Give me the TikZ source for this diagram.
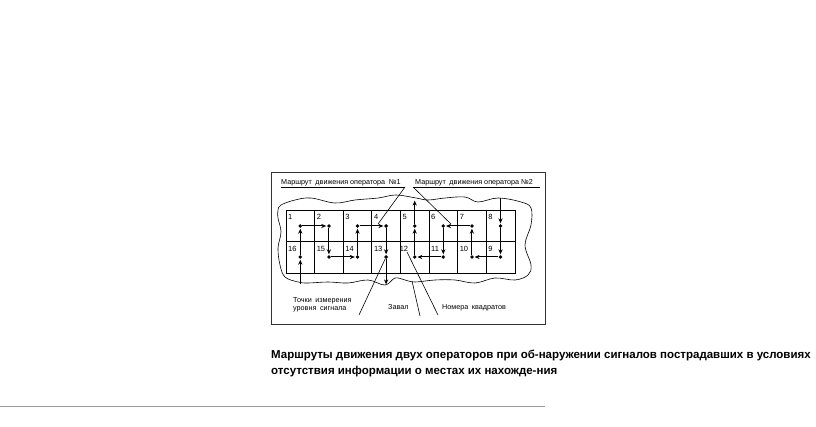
\documentclass[tikz,border=0pt]{standalone}
\usepackage{fontspec}
\setmainfont{Liberation Sans}
\usetikzlibrary{arrows.meta}

\begin{document}
\begin{tikzpicture}[x=1pt, y=-1pt,
		pt/.style={circle, fill, inner sep=0pt, minimum size=3.8pt},
		num/.style={anchor=north west, inner sep=0pt, font=\fontsize{7.5}{8}\selectfont},
		lbl/.style={inner sep=0pt, font=\fontsize{7.2}{8.3}\selectfont},
		route/.style={-{Stealth[length=5pt, width=4.2pt]}, line width=1pt, shorten >=0.6pt}]
		\useasboundingbox (0,0) rectangle (816,427);
		\draw[line width=0.8pt, black!80] (271,172) rectangle (545,324);
		\draw[line width=0.6pt] plot[smooth cycle, tension=0.6] coordinates {(278,210) (281,205) (295,200) (311,198) (335,203) (355,200) (378,198) (396,195) (416,198) (428,200) (445,198) (465,197) (478,202) (498,198) (521,202) (531,208) (531,225) (525,245) (531,265) (528,275) (515,280) (495,278) (475,283) (455,280) (435,280) (415,282) (405,280) (395,278) (385,285) (368,280) (348,283) (328,282) (308,283) (298,282) (285,277) (280,265) (278,248) (281,232) (278,218)};
		\draw[line width=0.7pt] (286,210) rectangle (515,273);
		\draw[line width=0.7pt] (286,241.5) -- (515,241.5);
		\foreach \i in {1,...,7}
			\draw[line width=0.7pt] (286+28.6*\i,210) -- (286+28.6*\i,273);
		\node[num] (n1) at (288,214) {1};
		\node[num] (n2) at (316.6,214) {2};
		\node[num] (n3) at (345.2,214) {3};
		\node[num] (n4) at (373.8,214) {4};
		\node[num] (n5) at (402.4,214) {5};
		\node[num] (n6) at (431,214) {6};
		\node[num] (n7) at (459.6,214) {7};
		\node[num] (n8) at (488.2,214) {8};
		\node[num] (n16) at (288,246) {16};
		\node[num] (n15) at (316.6,246) {15};
		\node[num] (n14) at (345.2,246) {14};
		\node[num] (n13) at (373.8,246) {13};
		\node[num] (n12) at (399.6,246) {12};
		\node[num] (n11) at (431,246) {11};
		\node[num] (n10) at (459.6,246) {10};
		\node[num] (n9) at (488.2,246) {9};
		\node[pt] (d1) at (300.3,226) {};
		\node[pt] (d2) at (328.9,226) {};
		\node[pt] (d3) at (357.5,226) {};
		\node[pt] (d4) at (386.1,226) {};
		\node[pt] (d5) at (414.7,226) {};
		\node[pt] (d6) at (443.3,226) {};
		\node[pt] (d7) at (471.9,226) {};
		\node[pt] (d8) at (500.5,226) {};
		\node[pt] (d16) at (300.3,257) {};
		\node[pt] (d15) at (328.9,257) {};
		\node[pt] (d14) at (357.5,257) {};
		\node[pt] (d13) at (386.1,257) {};
		\node[pt] (d12) at (414.7,257) {};
		\node[pt] (d11) at (443.3,257) {};
		\node[pt] (d10) at (471.9,257) {};
		\node[pt] (d9) at (500.5,257) {};
		\coordinate (in1) at (300.3,284);
		\coordinate (out1) at (386.1,285);
		\coordinate (in2) at (500.5,198);
		\coordinate (out2) at (414.7,200);
		\draw[route] (in1) -- (d16);
		\draw[route] (d16) -- (d1);
		\draw[route] (d1) -- (d2);
		\draw[route] (d2) -- (d15);
		\draw[route] (d15) -- (d14);
		\draw[route] (d14) -- (d3);
		\draw[route] (d3) -- (d4);
		\draw[route] (d4) -- (d13);
		\draw[route] (d13) -- (out1);
		\draw[route] (in2) -- (d8);
		\draw[route] (d8) -- (d9);
		\draw[route] (d9) -- (d10);
		\draw[route] (d10) -- (d7);
		\draw[route] (d7) -- (d6);
		\draw[route] (d6) -- (d11);
		\draw[route] (d11) -- (d12);
		\draw[route] (d12) -- (d5);
		\draw[route] (d5) -- (out2);
		\node[lbl, anchor=base west] (t1) at (281,184.5) {Маршрут\enspace движения оператора\enspace №1};
		\node[lbl, anchor=base west] (t2) at (415,184.5) {Маршрут\enspace движения оператора №2};
		\draw[line width=0.6pt] (281,187) -- (405,187) coordinate (u1);
		\draw[line width=0.6pt] (413,187) coordinate (u2) -- (540,187);
		\coordinate (a34) at (378,224);
		\coordinate (a76) at (451,224);
		\draw[line width=0.6pt] (u1) -- (a34);
		\draw[line width=0.6pt] (u2) -- (a76);
		\node[lbl, anchor=south west, align=left] (l1) at (293,312) {Точки\enspace измерения\\уровня\enspace сигнала};
		\node[lbl, anchor=base west] (l2) at (388,309.5) {Завал};
		\node[lbl, anchor=base west] (l3) at (442,309.5) {Номера\enspace квадратов};
		\coordinate (c1) at (359,315);
		\coordinate (c2) at (420,316);
		\coordinate (c3) at (438,315);
		\coordinate (b2) at (412,281);
		\coordinate (b3) at (407,252);
		\draw[line width=0.6pt] (c1) -- (d13);
		\draw[line width=0.6pt] (c2) -- (b2);
		\draw[line width=0.6pt] (c3) -- (b3);
		\node[anchor=base west, inner sep=0pt, align=left, font=\bfseries\fontsize{11.5}{16}\selectfont] (cap) at (271,374) {Маршруты движения двух операторов при об-наружении сигналов пострадавших в условиях\\отсутствия информации о местах их нахожде-ния};
		\draw[line width=1.2pt, black!40] (0,406.5) -- (545,406.5);
	\end{tikzpicture}
\end{document}
